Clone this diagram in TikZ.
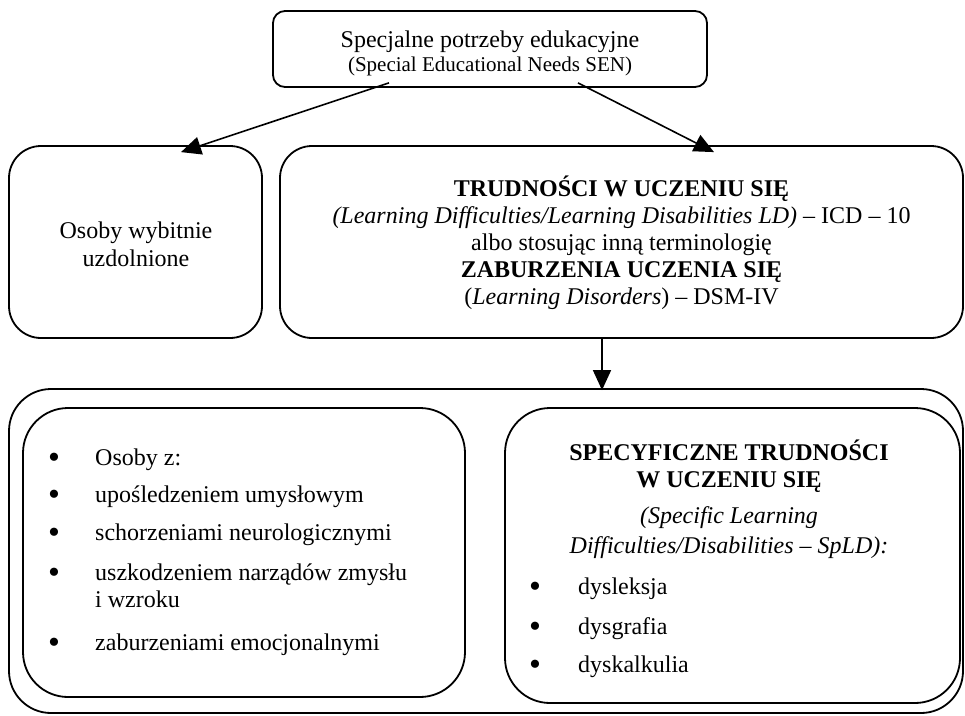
\documentclass[tikz,border=0pt]{standalone}
\usepackage{fontspec}
\setmainfont{Liberation Serif}
\usetikzlibrary{arrows.meta}
\tikzset{
  box/.style={draw, line width=1.8pt, rounded corners=#1, inner sep=0pt},
  box/.default=32pt,
  txt/.style={inner sep=0pt, align=center},
  arr/.style={line width=1.6pt, -{Triangle[length=20pt,width=18pt]}},
  bul/.style={inner sep=0pt, anchor=base},
  itm/.style={inner sep=0pt, anchor=base west},
}
\newcommand{\fs}{\fontsize{24}{28}\selectfont}
\begin{document}
\begin{tikzpicture}[x=1pt,y=-1pt]
\useasboundingbox (0,0) rectangle (965,715);
% boxes
\node[box=12pt, minimum width=434pt, minimum height=76pt] (top) at (490,49) {};
\node[box=32pt, minimum width=253pt, minimum height=192pt] (left) at (135.5,242) {};
\node[box=32pt, minimum width=683pt, minimum height=192pt] (right) at (621.5,242) {};
\node[box=42pt, minimum width=954pt, minimum height=324pt] (outer) at (486,551) {};
\node[box=45pt, minimum width=442pt, minimum height=289pt] (inl) at (244,552.5) {};
\node[box=45pt, minimum width=455pt, minimum height=295pt] (inr) at (732.5,555.5) {};
% texts
\node[txt, font=\fs] (toptxt) at (490,53) {Specjalne potrzeby edukacyjne\\[-4pt]{\fontsize{21}{24}\selectfont (Special Educational Needs SEN)}};
\node[txt, font=\fs] (lefttxt) at (136,244) {Osoby wybitnie\\uzdolnione};
\node[txt, font=\fontsize{24}{27}\selectfont] (righttxt) at (621.5,243) {\textbf{TRUDNOŚCI W UCZENIU SIĘ}\\
\textit{(Learning Difficulties/Learning Disabilities LD)} – ICD – 10\\
albo stosując inną terminologię\\
\textbf{ZABURZENIA UCZENIA SIĘ}\\
(\textit{Learning Disorders}) – DSM-IV};
% inner left list
\foreach \n/\y in {b1/465,b2/502,b3/540,b4/580,b5/650}{
  \node[bul, font=\fontsize{34}{34}\selectfont] (\n) at (54,\y+3) {•};
}
\node[itm, font=\fs] (l1) at (95,465) {Osoby z:};
\node[itm, font=\fs] (l2) at (95,502) {upośledzeniem umysłowym};
\node[itm, font=\fs] (l3) at (95,540) {schorzeniami neurologicznymi};
\node[itm, font=\fs] (l4) at (95,580) {uszkodzeniem narządów zmysłu};
\node[itm, font=\fs] (l4b) at (95,607) {i wzroku};
\node[itm, font=\fs] (l5) at (95,650) {zaburzeniami emocjonalnymi};
% inner right
\node[txt, font=\fontsize{24}{27}\selectfont\bfseries] (sph) at (729,466) {SPECYFICZNE TRUDNOŚCI\\W UCZENIU SIĘ};
\node[txt, font=\fontsize{24}{30}\selectfont\itshape] (spe) at (729,533) {(Specific Learning\\Difficulties/Disabilities – SpLD):};
\foreach \n/\y in {c1/594,c2/634,c3/672}{
  \node[bul, font=\fontsize{34}{34}\selectfont] (\n) at (535,\y+3) {•};
}
\node[itm, font=\fs] (r1) at (578,594) {dysleksja};
\node[itm, font=\fs] (r2) at (578,634) {dysgrafia};
\node[itm, font=\fs] (r3) at (578,672) {dyskalkulia};
% arrows
\draw[arr] ([xshift=-101pt,yshift=5pt]top.south) -- ([xshift=45.5pt,yshift=-7pt]left.north);
\draw[arr] ([xshift=88pt,yshift=5pt]top.south) -- ([xshift=92.5pt,yshift=-7pt]right.north);
\draw[arr] ([xshift=-19.5pt]right.south) -- ([xshift=116pt,yshift=-2pt]outer.north);
\end{tikzpicture}
\end{document}
